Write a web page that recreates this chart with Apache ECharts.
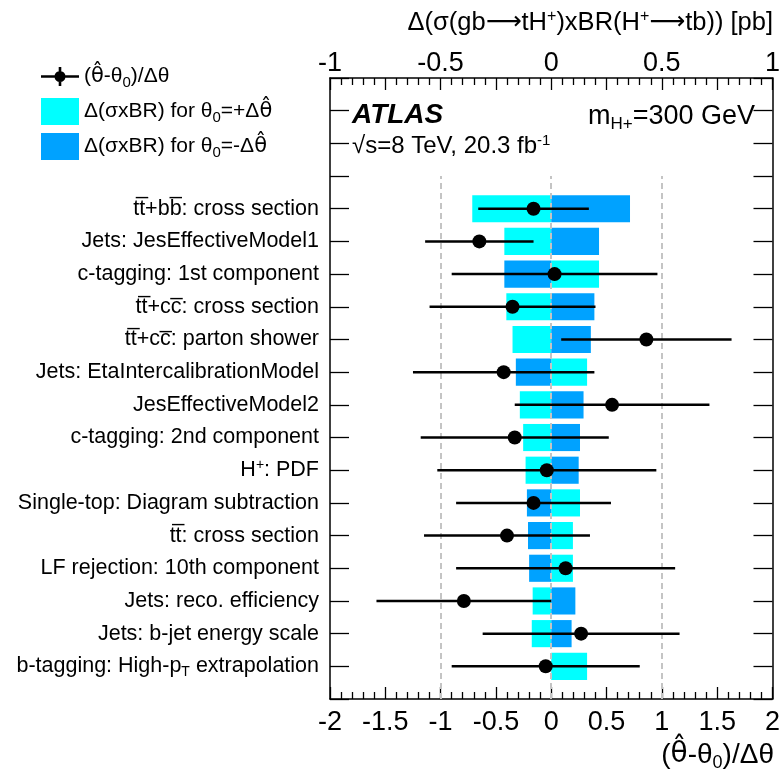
<!DOCTYPE html>
<html><head><meta charset="utf-8">
<script src="https://cdn.jsdelivr.net/npm/echarts@6/dist/echarts.min.js"></script>
<style>html,body{margin:0;padding:0;background:#fff}#c{width:783px;height:774px}</style>
</head><body><div id="c"></div>
<script>
// Nuisance parameters, top to bottom
const categories = [
  'tt\u0305+bb\u0305: cross section',
  'Jets: JesEffectiveModel1',
  'c-tagging: 1st component',
  'tt\u0305+cc\u0305: cross section',
  'tt\u0305+cc\u0305: parton shower',
  'Jets: EtaIntercalibrationModel',
  'JesEffectiveModel2',
  'c-tagging: 2nd component',
  'H{sup|+}: PDF',
  'Single-top: Diagram subtraction',
  'tt\u0305: cross section',
  'LF rejection: 10th component',
  'Jets: reco. efficiency',
  'Jets: b-jet energy scale',
  'b-tagging: High-p{sub|T} extrapolation'
];
// pulls (theta_hat - theta0)/Delta theta
const pulls      = [-0.16, -0.65, 0.03, -0.35, 0.86, -0.43, 0.55, -0.33, -0.04, -0.16, -0.40, 0.13, -0.79, 0.27, -0.05];
const pullErrors = [ 0.50,  0.49, 0.93,  0.75, 0.77,  0.82, 0.88,  0.85,  0.99,  0.70,  0.75, 0.99,  0.79, 0.89,  0.85];
// impact on sigma x BR [pb]
const impactPlus  = [-0.357, -0.212,  0.216, -0.203, -0.175,  0.162, -0.142, -0.127, -0.116,  0.130,  0.098,  0.098, -0.084, -0.088, 0.162];
const impactMinus = [ 0.356,  0.216, -0.212,  0.195,  0.179, -0.160,  0.146,  0.130,  0.124, -0.110, -0.105, -0.100,  0.109,  0.092, 0.0];
const bottomTickLabels = ['-2','-1.5','-1','-0.5','0','0.5','1','1.5','2'];
const topTickLabels = ['-1','','-0.5','','0','','0.5','','1'];
const legendNames = ['(\u03b8\u0302-\u03b8\u2080)/\u0394\u03b8', '\u0394(\u03c3xBR) for \u03b8\u2080=+\u0394\u03b8\u0302', '\u0394(\u03c3xBR) for \u03b8\u2080=-\u0394\u03b8\u0302'];

const FONT = 'Liberation Sans, Arial, sans-serif';
const n = categories.length;
const yPos = categories.map((c, i) => n - i);
const labelAt = {};
yPos.forEach((y, i) => { labelAt[y] = categories[i]; });

const richStyles = {
  sub: { fontSize: 14, padding: [12, 0, 0, 0], fontFamily: FONT, color: '#000' },
  sup: { fontSize: 14, padding: [0, 0, 10, 0], fontFamily: FONT, color: '#000' }
};
function fmtTheta(s) {
  return s.replace(/\u03b8\u0302/g, '{th|\u03b8\u0302}').replace(/\u2080/g, '{sub|0}');
}

function barRender(color) {
  return function (params, api) {
    const v = api.value(0), y = api.value(1);
    const p0 = api.coord([0, y]);
    const p1 = api.coord([v, y]);
    const h = api.size([0, 0.83])[1];
    return {
      type: 'rect',
      shape: { x: Math.min(p0[0], p1[0]), y: p0[1] - h / 2, width: Math.abs(p1[0] - p0[0]), height: h },
      style: { fill: color }
    };
  };
}

const axisLineStyle = { color: '#000', width: 1.5 };
const tickStyle = { color: '#000', width: 1.3 };

const chart = echarts.init(document.getElementById('c'), null, { renderer: 'canvas' });
chart.setOption({
  animation: false,
  backgroundColor: '#fff',
  textStyle: { fontFamily: FONT },
  grid: { left: 330, right: 9, top: 78, bottom: 75, containLabel: false },
  title: [
    { text: '\u0394(\u03c3(gb{ar|\u27f6}tH{sup|+})xBR(H{sup|+}{ar|\u27f6}tb)) [pb]', right: 10, top: 9, padding: 0,
      textStyle: { fontSize: 25.5, fontWeight: 'normal', color: '#000', fontFamily: FONT,
        rich: { sup: { fontSize: 16, padding: [0, 0, 11, 0], fontFamily: FONT }, ar: { fontSize: 25, fontFamily: 'DejaVu Sans' } } } },
    { text: '({th|\u03b8\u0302}-\u03b8{sub|0})/\u0394\u03b8', right: 9, top: 738, padding: 0,
      textStyle: { fontSize: 28, fontWeight: 'normal', color: '#000', fontFamily: FONT,
        rich: { sub: { fontSize: 18, padding: [16, 0, 0, 0], fontFamily: FONT }, th: { fontSize: 28, fontFamily: 'DejaVu Sans' } } } },
    { text: 'ATLAS', left: 352, top: 101, padding: 0,
      textStyle: { fontSize: 28, fontWeight: 'bold', fontStyle: 'italic', color: '#000', fontFamily: FONT } },
    { text: 'm{sub|H+}=300 GeV', right: 28, top: 101, padding: 0,
      textStyle: { fontSize: 27, fontWeight: 'normal', color: '#000', fontFamily: FONT, rich: { sub: { fontSize: 17, padding: [15, 0, 0, 0], fontFamily: FONT } } } },
    { text: '\u221as=8 TeV, 20.3 fb{sup|-1}', left: 352, top: 133, padding: 0,
      textStyle: { fontSize: 24, fontWeight: 'normal', color: '#000', fontFamily: FONT, rich: { sup: { fontSize: 15, padding: [0, 0, 12, 0], fontFamily: FONT } } } }
  ],
  legend: {
    orient: 'vertical', left: 41, top: 66, padding: 0,
    itemWidth: 38, itemHeight: 27, itemGap: 8, selectedMode: false,
    data: [
      { name: legendNames[0], icon: 'path://M0,12.2H38V14.8H0Z M17.7,4H20.3V23H17.7Z M13.5,13.5a5.5,5.5 0 1,1 11,0a5.5,5.5 0 1,1 -11,0Z' },
      { name: legendNames[1], icon: 'rect' },
      { name: legendNames[2], icon: 'rect' }
    ],
    formatter: fmtTheta,
    textStyle: { fontSize: 21, color: '#000', fontFamily: FONT,
      rich: { sub: { fontSize: 15, padding: [12, 0, 0, 0], fontFamily: FONT, color: '#000' },
              th: { fontSize: 21, fontFamily: 'DejaVu Sans', color: '#000' } } }
  },
  xAxis: [
    { type: 'value', position: 'bottom', min: -2, max: 2, interval: 0.5,
      axisLine: { show: true, onZero: false, lineStyle: axisLineStyle },
      axisTick: { show: true, inside: true, length: 12, lineStyle: tickStyle },
      minorTick: { show: true, splitNumber: 5, length: 7, lineStyle: tickStyle },
      axisLabel: { fontSize: 27, color: '#000', margin: 10, fontFamily: FONT,
        formatter: (v) => bottomTickLabels[Math.round((v + 2) / 0.5)] },
      splitLine: { show: false } },
    { type: 'value', position: 'top', min: -1, max: 1, interval: 0.25,
      axisLine: { show: true, onZero: false, lineStyle: axisLineStyle },
      axisTick: { show: true, inside: true, length: 12, lineStyle: tickStyle },
      minorTick: { show: true, splitNumber: 5, length: 7, lineStyle: tickStyle },
      axisLabel: { fontSize: 27, color: '#000', margin: 1, fontFamily: FONT,
        formatter: (v) => topTickLabels[Math.round((v + 1) / 0.25)] },
      splitLine: { show: false } }
  ],
  yAxis: [
    { type: 'value', position: 'left', min: 0, max: 19, interval: 1,
      axisLine: { show: true, onZero: false, lineStyle: axisLineStyle },
      axisTick: { show: true, inside: true, length: 19, lineStyle: tickStyle },
      axisLabel: { fontSize: 21.5, color: '#000', margin: 11, fontFamily: FONT,
        formatter: (v) => labelAt[v] || '', rich: richStyles },
      splitLine: { show: false } },
    { type: 'value', position: 'right', min: 0, max: 19, interval: 1,
      axisLine: { show: true, onZero: false, lineStyle: axisLineStyle },
      axisTick: { show: true, inside: true, length: 19, lineStyle: tickStyle },
      axisLabel: { show: false },
      splitLine: { show: false } }
  ],
  series: [
    { type: 'custom', name: legendNames[1], xAxisIndex: 1, yAxisIndex: 0, z: 2,
      itemStyle: { color: '#00ffff' },
      encode: { x: 0, y: 1 },
      data: impactPlus.map((v, i) => [v, yPos[i]]),
      renderItem: barRender('#00ffff'),
      markLine: {
        silent: true, symbol: ['none', 'none'], z: 5,
        label: { show: false },
        lineStyle: { color: '#c4c4c4', type: [6, 4], width: 2 },
        data: [-1, 0, 1].map(x => [{ xAxis: x / 2, yAxis: 0 }, { xAxis: x / 2, yAxis: 16 }])
      } },
    { type: 'custom', name: legendNames[2], xAxisIndex: 1, yAxisIndex: 0, z: 2,
      itemStyle: { color: '#00a2ff' },
      encode: { x: 0, y: 1 },
      data: impactMinus.map((v, i) => [v, yPos[i]]),
      renderItem: barRender('#00a2ff') },
    { type: 'custom', name: 'errors', xAxisIndex: 0, yAxisIndex: 0, z: 8,
      encode: { x: [0, 1], y: 2 },
      data: pulls.map((p, i) => [p - pullErrors[i], p + pullErrors[i], yPos[i]]),
      renderItem: function (params, api) {
        const y = api.value(2);
        const a = api.coord([api.value(0), y]);
        const b = api.coord([api.value(1), y]);
        return { type: 'line', shape: { x1: a[0], y1: a[1], x2: b[0], y2: b[1] },
          style: { stroke: '#000', lineWidth: 2.5 } };
      } },
    { type: 'scatter', name: legendNames[0], xAxisIndex: 0, yAxisIndex: 0, z: 10,
      symbol: 'circle', symbolSize: 14, itemStyle: { color: '#000', opacity: 1 },
      data: pulls.map((p, i) => [p, yPos[i]]) }
  ]
});
</script></body></html>
